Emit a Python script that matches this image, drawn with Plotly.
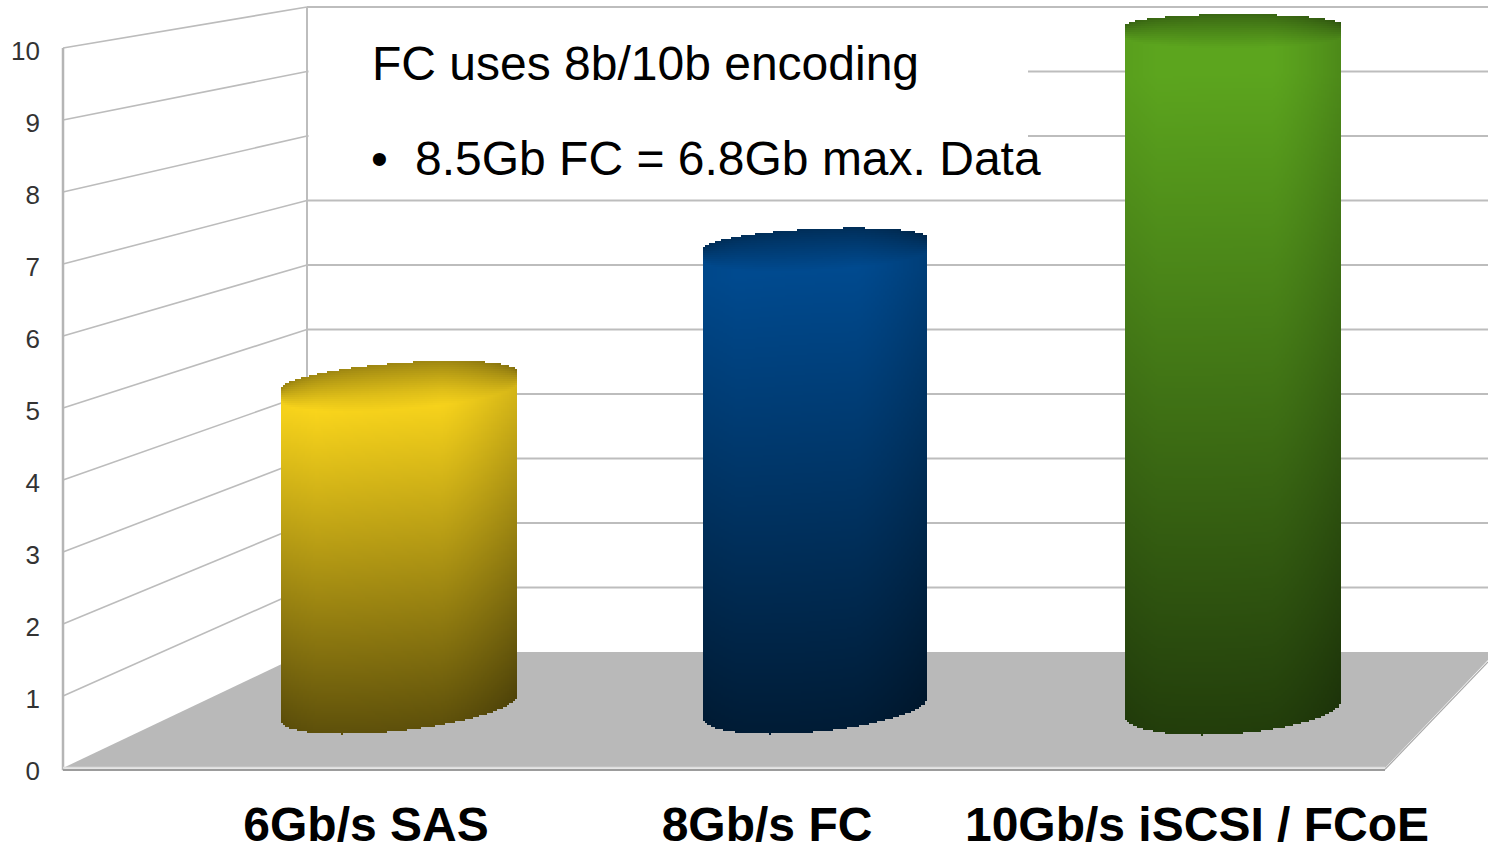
import numpy as np
import plotly.graph_objects as go

# ---- data ----
categories = ["6Gb/s SAS", "8Gb/s FC", "10Gb/s iSCSI / FCoE"]
values = [4.8, 6.8, 10.0]
y_ticks = list(range(0, 11))
note_title = "FC uses 8b/10b encoding"
note_bullet = "8.5Gb FC = 6.8Gb max. Data"

# ---- category placement (x-axis units) ----
cyl_left = [281, 703, 1125]
cyl_right = [517, 928, 1342]
label_x = [366, 767, 1197]
cyl_colors = ["rgb(253,216,28)", "rgb(0,74,143)", "rgb(92,165,30)"]

# ---- pseudo-3D geometry, in y-axis units unless noted ----
PX = 72.0                     # pixels per y unit at the front of the box
WALL_L, WALL_B, FLOOR_R, RIGHT = 63, 307, 1385, 1488
BACK_0 = 116 / PX             # floor level on the back wall
BACK_K = 64.5 / PX            # value scale on the back wall
base_l = [48 / PX, 50 / PX, 52 / PX]    # cylinder foot, left side
base_r = [73 / PX, 71 / PX, 68 / PX]    # cylinder foot, right side
K_L, K_R = 69 / PX, 67.5 / PX           # value scale at cylinder depth
foot = [23 / PX, 24 / PX, 26 / PX]


def back_y(v):
    return BACK_0 + BACK_K * v


shapes = []


def line(x0, y0, x1, y1, color, width):
    shapes.append(dict(type="line", xref="x", yref="y", x0=x0, y0=y0, x1=x1, y1=y1,
                       layer="below", line=dict(color=color, width=width)))


# gridlines on side wall and back wall
for v in y_ticks[1:]:
    line(WALL_L, v, WALL_B, back_y(v), "#bcbcbc", 1.6)
    line(WALL_B, back_y(v), RIGHT, back_y(v), "#bdbdbd", 2)
line(WALL_B, back_y(0), WALL_B, back_y(y_ticks[-1]), "#bdbdbd", 2)
line(WALL_L, -0.03, WALL_L, y_ticks[-1], "#b5b5b5", 2.5)

# white box behind the note
shapes.append(dict(type="rect", xref="x", yref="y", x0=WALL_B + 1.5, x1=1028,
                   y0=back_y(7) + 0.08, y1=back_y(10) - 0.1, layer="below",
                   fillcolor="white", line=dict(width=0)))

# floor
floor_path = (f"M {WALL_L} 0 L {WALL_B} {back_y(0)} L {RIGHT} {back_y(0)} "
              f"L {RIGHT} {back_y(0) - 8 / PX} L {FLOOR_R} 0 Z")
shapes.append(dict(type="path", xref="x", yref="y", path=floor_path, layer="below",
                   fillcolor="#b9b9b9", line=dict(width=0)))
line(FLOOR_R, -0.02, RIGHT, back_y(0) - 10 / PX, "#a8a8a8", 1.2)
line(WALL_L, 0.005, FLOOR_R, 0.005, "#dedede", 2)
line(WALL_L, -0.03, FLOOR_R, -0.03, "#9c9c9c", 2.5)

fig = go.Figure()

# cylinders
STEP_X, STEP_Y = 2.0, 2.0 / PX
for i, v in enumerate(values):
    xs = np.arange(cyl_left[i] + STEP_X / 2, cyl_right[i], STEP_X)
    u = np.clip((xs - cyl_left[i]) / (cyl_right[i] - cyl_left[i]) * 2 - 1, -1, 1)
    arc = np.sqrt(1 - u ** 2)
    chord = (u + 1) / 2
    cap_h = (23 - 1.2 * v) / PX
    bot = base_l[i] + (base_r[i] - base_l[i]) * chord - foot[i] * arc
    top_chord = (base_l[i] + K_L * v) + ((base_r[i] + K_R * v) - (base_l[i] + K_L * v)) * chord
    top = top_chord + cap_h * arc
    ys = np.arange(bot.min() - STEP_Y, top.max() + 2 * STEP_Y, STEP_Y)
    X, Y = np.meshgrid(xs, ys)
    U = np.meshgrid(u, ys)[0]
    A = np.meshgrid(arc, ys)[0]
    B = np.meshgrid(bot, ys)[0]
    T = np.meshgrid(top, ys)[0]
    t = (Y - B) / (T - B)
    z = 0.37 + 0.63 * np.clip(t / 0.92, 0, 1)
    depth = (T - Y) / (2.0 * cap_h * A + 12 / PX)
    z = z * (0.62 + 0.38 * np.clip(depth, 0, 1) ** 0.9)
    z = z * (1 - 0.30 * np.clip(U - 0.35, 0, 1) ** 1.3 - 0.12 * np.clip(-U - 0.7, 0, 1))
    z[(Y < B) | (Y > T)] = np.nan
    fig.add_trace(go.Heatmap(
        x=xs, y=ys, z=z, zmin=0, zmax=1, showscale=False, hoverinfo="skip",
        name=categories[i], colorscale=[[0, "black"], [1, cyl_colors[i]]],
    ))

fig.update_layout(
    width=1488, height=846, autosize=False,
    margin=dict(l=61, r=0, t=0, b=75),
    paper_bgcolor="white", plot_bgcolor="white",
    showlegend=False, shapes=shapes,
    font=dict(family="Liberation Sans"),
    xaxis=dict(range=[61, 1488], showgrid=False, zeroline=False, showline=False,
               automargin=False,
               tickmode="array", tickvals=label_x, ticktext=categories, ticks="",
               ticklabelstandoff=21,
               tickfont=dict(family="Liberation Sans", size=48, color="black", weight="bold")),
    yaxis=dict(range=[-3 / PX, 768 / PX], showgrid=False, zeroline=False, showline=False,
               automargin=False,
               tickmode="array", tickvals=y_ticks, ticks="", ticklabelstandoff=20,
               ticklabelshift=3,
               tickfont=dict(family="Liberation Sans", size=26, color="#333333")),
    annotations=[
        dict(x=370, y=(768 - 63) / PX, xref="x", yref="y", text=note_title, showarrow=False,
             xanchor="left", yanchor="middle", font=dict(size=48, color="black")),
        dict(x=379, y=(768 - 158) / PX, xref="x", yref="y", text="•", showarrow=False,
             xanchor="center", yanchor="middle", font=dict(size=48, color="black")),
        dict(x=413, y=(768 - 158) / PX, xref="x", yref="y", text=note_bullet, showarrow=False,
             xanchor="left", yanchor="middle", font=dict(size=48, color="black")),
    ],
)

fig.write_html("out.html", config=dict(displayModeBar=False),
               post_script="document.body.style.margin='0';document.documentElement.style.overflow='hidden';")
